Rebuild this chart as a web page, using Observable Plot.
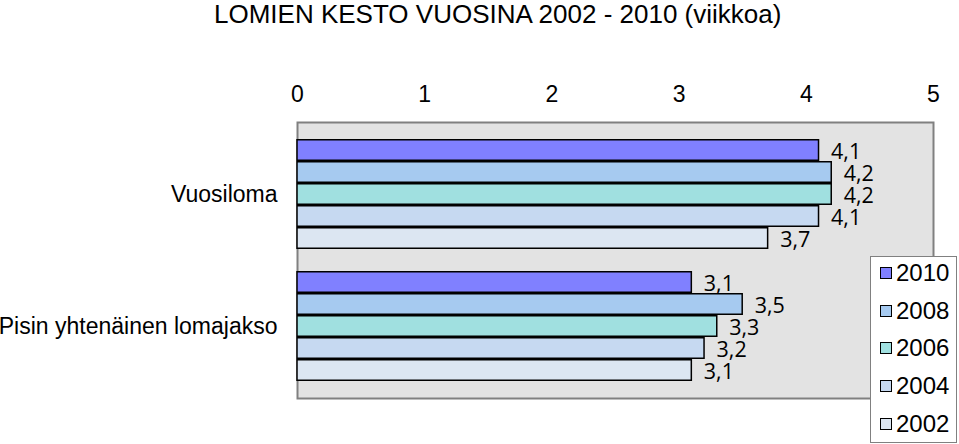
<!DOCTYPE html>
<html>
<head>
<meta charset="utf-8">
<script src="https://cdn.jsdelivr.net/npm/d3@7"></script>
<script src="https://cdn.jsdelivr.net/npm/@observablehq/plot@0.6"></script>
<style>
  html, body { margin: 0; padding: 0; background: #fff; }
  body { width: 959px; height: 444px; position: relative; overflow: hidden; font-family: "Liberation Sans", Arial, sans-serif; }
  #title { height: 30px; line-height: 28px; font-size: 26px; padding-left: 214px; white-space: nowrap; color: #000; }
  #legend { position: absolute; left: 870px; top: 256px; width: 87px; height: 187px; border: 1px solid #808080; background: #fff; box-sizing: border-box; }
  .row { position: absolute; left: 0; height: 26px; line-height: 26px; font-size: 24px; white-space: nowrap; }
  .sw { position: absolute; left: 9px; top: 7px; width: 10px; height: 10px; border: 1px solid #000; }
  .lb { position: absolute; left: 25px; top: 0; }
</style>
</head>
<body>
<div id="title">LOMIEN KESTO VUOSINA 2002 - 2010 (viikkoa)</div>
<div id="chart"></div>
<div id="legend"></div>
<script>
const categories = ["Vuosiloma", "Pisin yhtenäinen lomajakso"];
const years = ["2010", "2008", "2006", "2004", "2002"];
const vuosiloma = [4.1, 4.2, 4.2, 4.1, 3.7];
const pisin = [3.1, 3.5, 3.3, 3.2, 3.1];
const colors = ["#8080ff", "#a6caf0", "#a0e0e0", "#c6d9f1", "#dce6f2"];
const xTicks = [0, 1, 2, 3, 4, 5];

const seriesByCategory = [vuosiloma, pisin];
const data = [];
categories.forEach((c, ci) => {
  years.forEach((y, yi) => {
    data.push({category: c, year: y, value: seriesByCategory[ci][yi], key: c + "|" + y});
  });
});
const yDomain = [
  ...years.map(y => categories[0] + "|" + y),
  "gap",
  ...years.map(y => categories[1] + "|" + y)
];
const labelKeys = categories.map(c => c + "|" + years[2]);

const chart = Plot.plot({
  width: 959,
  height: 414,
  marginTop: 92,
  marginBottom: 46,
  marginLeft: 297,
  marginRight: 26,
  style: {fontFamily: "Liberation Sans, Arial, sans-serif", fontSize: "23px", color: "#000", background: "transparent", overflow: "visible"},
  x: {domain: [0, 5], label: null},
  y: {domain: yDomain, paddingInner: 0, paddingOuter: 0.6, label: null},
  color: {domain: years, range: colors},
  marks: [
    Plot.frame({fill: "#e3e3e3", stroke: "#808080", strokeWidth: 2}),
    Plot.axisX({anchor: "top", ticks: xTicks, tickFormat: d => String(d), tickSize: 0, tickPadding: 21, fontSize: 23, label: null}),
    Plot.axisY({ticks: labelKeys, tickFormat: k => k.split("|")[0], tickSize: 0, tickPadding: 20, fontSize: 23, label: null}),
    Plot.barX(data, {x: "value", y: "key", fill: "year", stroke: "#000", strokeWidth: 1.5, insetTop: 0.75, insetBottom: 0.75}),
    Plot.text(data, {x: "value", y: "key", text: d => d.value.toFixed(1).replace(".", ","), textAnchor: "start", dx: 12, dy: 2, fontSize: 21.5, fontFamily: "Open Sans, sans-serif", fill: "#000"})
  ]
});
document.getElementById("chart").appendChild(chart);

const legend = document.getElementById("legend");
years.forEach((y, i) => {
  const row = document.createElement("div");
  row.className = "row";
  row.style.top = (3 + i * 37.7) + "px";
  row.style.width = "85px";
  const sw = document.createElement("div");
  sw.className = "sw";
  sw.style.background = colors[i];
  const lb = document.createElement("div");
  lb.className = "lb";
  lb.textContent = y;
  row.appendChild(sw);
  row.appendChild(lb);
  legend.appendChild(row);
});
</script>
</body>
</html>
